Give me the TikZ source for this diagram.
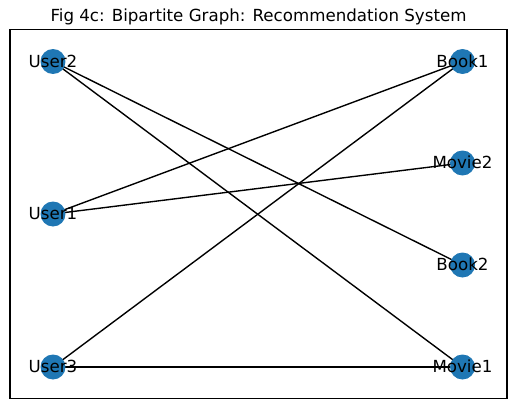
\documentclass[tikz,border=0pt]{standalone}
\usepackage{fontspec}
\setmainfont{DejaVu Sans}
\definecolor{mplblue}{HTML}{1F77B4}
\begin{document}
\begin{tikzpicture}[x=0.72pt,y=-0.72pt,
  vert/.style={circle,fill=mplblue,draw=none,minimum size=18pt,inner sep=0pt},
  lbl/.style={anchor=base,inner sep=0pt,font=\fontsize{12pt}{14pt}\selectfont},
  edge/.style={draw=black,line width=1pt}]
\useasboundingbox (0,0) rectangle (515,409);
\draw[line width=0.8pt] (10,29.5) rectangle (507,398.5);
\node[anchor=base,inner sep=0pt,font=\fontsize{12pt}{14pt}\selectfont] (title) at (258.5,21) {Fig 4c: Bipartite Graph: Recommendation System};
% vertices
\coordinate (u2) at (53,61.5);
\coordinate (u1) at (53,214);
\coordinate (u3) at (53,367);
\coordinate (b1) at (462.5,61.5);
\coordinate (m2) at (462.5,163);
\coordinate (b2) at (462.5,265);
\coordinate (m1) at (462.5,367);
% edges
\draw[edge] (u2) -- (b2);
\draw[edge] (u2) -- (m1);
\draw[edge] (u1) -- (b1);
\draw[edge] (u1) -- (m2);
\draw[edge] (u3) -- (b1);
\draw[edge] (u3) -- (m1);
% nodes
\foreach \n in {u2,u1,u3,b1,m2,b2,m1} {\node[vert] (n\n) at (\n) {};}
% labels
\node[lbl] (lu2) at ([yshift=-5.8*0.72pt]u2) {User2};
\node[lbl] (lu1) at ([yshift=-5.8*0.72pt]u1) {User1};
\node[lbl] (lu3) at ([yshift=-5.8*0.72pt]u3) {User3};
\node[lbl] (lb1) at ([yshift=-5.8*0.72pt]b1) {Book1};
\node[lbl] (lm2) at ([yshift=-5.8*0.72pt]m2) {Movie2};
\node[lbl] (lb2) at ([yshift=-5.8*0.72pt]b2) {Book2};
\node[lbl] (lm1) at ([yshift=-5.8*0.72pt]m1) {Movie1};
\end{tikzpicture}
\end{document}
